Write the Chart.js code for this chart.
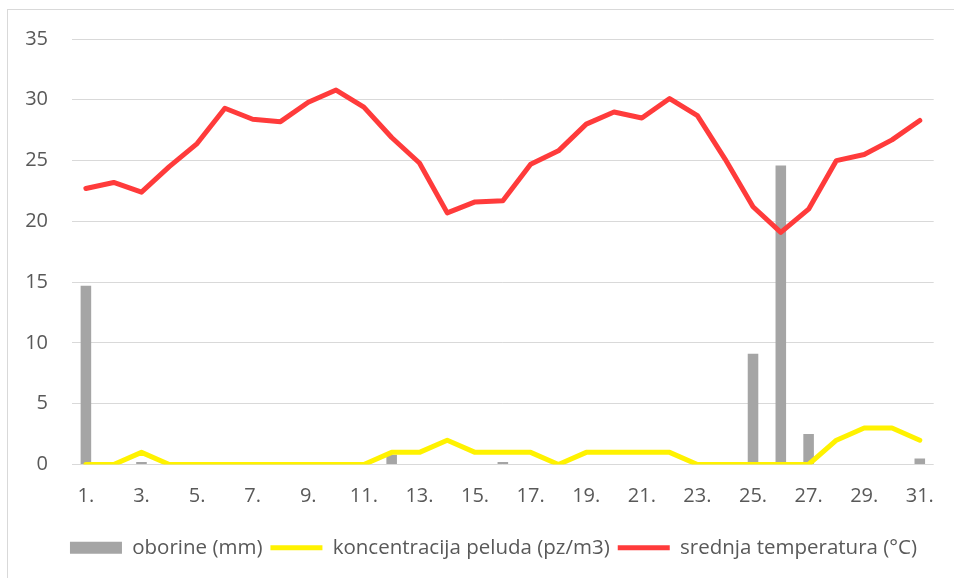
<!DOCTYPE html>
<html>
<head>
<meta charset="utf-8">
<script src="https://cdn.jsdelivr.net/npm/chart.js"></script>
<style>
  html, body { margin: 0; padding: 0; background: #fff; overflow: hidden; }
  #wrap { position: relative; width: 954px; height: 578px; }
  #okvir { position: absolute; left: 7px; top: 9px; width: 1000px; height: 1000px; border: 1.5px solid #d9d9d9; pointer-events: none; }
  canvas { position: absolute; left: 0; top: 0; }
</style>
</head>
<body>
<div id="wrap">
  <canvas id="grafikon" width="954" height="578"></canvas>
  <div id="okvir"></div>
</div>
<script>
// Dani u mjesecu
const dani = ['1.', '2.', '3.', '4.', '5.', '6.', '7.', '8.', '9.', '10.',
  '11.', '12.', '13.', '14.', '15.', '16.', '17.', '18.', '19.', '20.',
  '21.', '22.', '23.', '24.', '25.', '26.', '27.', '28.', '29.', '30.', '31.'];

// oborine (mm)
const oborine = [14.7, 0, 0.2, 0, 0, 0, 0, 0, 0, 0,
  0, 0.8, 0, 0, 0, 0.2, 0, 0, 0, 0,
  0, 0, 0, 0, 9.1, 24.6, 2.5, 0, 0, 0, 0.5];

// koncentracija peluda (pz/m3)
const pelud = [0, 0, 1, 0, 0, 0, 0, 0, 0, 0,
  0, 1, 1, 2, 1, 1, 1, 0, 1, 1,
  1, 1, 0, 0, 0, 0, 0, 2, 3, 3, 2];

// srednja temperatura (°C)
const temperatura = [22.7, 23.2, 22.4, 24.5, 26.4, 29.3, 28.4, 28.2, 29.8, 30.8,
  29.4, 26.9, 24.8, 20.7, 21.6, 21.7, 24.7, 25.8, 28.0, 29.0,
  28.5, 30.1, 28.7, 25.1, 21.2, 19.1, 21.0, 25.0, 25.5, 26.7, 28.3];

const yOznake = [0, 5, 10, 15, 20, 25, 30, 35];

const sivaBoja = '#595959';
const font = { family: 'Open Sans', size: 20 };

// legenda je u originalu malo pomaknuta udesno (centrirana na podrucje crteza)
const pomakLegende = {
  id: 'pomakLegende',
  afterLayout(chart) {
    chart.legend.left += 21;
    chart.legend.right += 21;
  }
};

const ctx = document.getElementById('grafikon').getContext('2d');
new Chart(ctx, {
  type: 'bar',
  data: {
    labels: dani,
    datasets: [{
      label: 'oborine (mm)',
      data: oborine,
      backgroundColor: '#A5A5A5',
      borderWidth: 0,
      barPercentage: 0.38,
      categoryPercentage: 1,
      pointStyle: 'rect',
      order: 3
    }, {
      type: 'line',
      label: 'koncentracija peluda (pz/m3)',
      data: pelud,
      borderColor: '#FFF200',
      backgroundColor: '#FFF200',
      borderWidth: 5,
      borderCapStyle: 'round',
      borderJoinStyle: 'round',
      pointRadius: 0,
      tension: 0,
      pointStyle: 'line',
      order: 2
    }, {
      type: 'line',
      label: 'srednja temperatura (°C)',
      data: temperatura,
      borderColor: '#FF3B3B',
      backgroundColor: '#FF3B3B',
      borderWidth: 5,
      borderCapStyle: 'round',
      borderJoinStyle: 'round',
      pointRadius: 0,
      tension: 0,
      pointStyle: 'line',
      order: 1
    }]
  },
  options: {
    responsive: false,
    animation: false,
    layout: { padding: { left: 0, right: 9, top: 39, bottom: 10 } },
    scales: {
      x: {
        grid: { display: false, drawTicks: false },
        border: { display: false },
        ticks: {
          autoSkip: false,
          maxRotation: 0,
          padding: 20,
          color: sivaBoja,
          font: font,
          callback: function (val, i) {
            return i % 2 === 0 ? this.getLabelForValue(val) : '';
          }
        },
        afterFit: function (scale) { scale.height = 65; }
      },
      y: {
        min: 0,
        max: 35,
        afterBuildTicks: function (scale) {
          scale.ticks = yOznake.map(v => ({ value: v }));
        },
        grid: { color: '#D9D9D9', lineWidth: 1, drawTicks: false },
        border: { display: false },
        ticks: { padding: 24, color: sivaBoja, font: font },
        afterFit: function (scale) { scale.width = 72; }
      }
    },
    plugins: {
      legend: {
        position: 'bottom',
        labels: {
          usePointStyle: true,
          pointStyleWidth: 52,
          boxHeight: 12,
          padding: 8,
          color: sivaBoja,
          font: { family: 'Open Sans', size: 20.5 },
          sort: (a, b) => a.datasetIndex - b.datasetIndex
        }
      },
      tooltip: { enabled: false }
    }
  },
  plugins: [pomakLegende]
});
</script>
</body>
</html>
